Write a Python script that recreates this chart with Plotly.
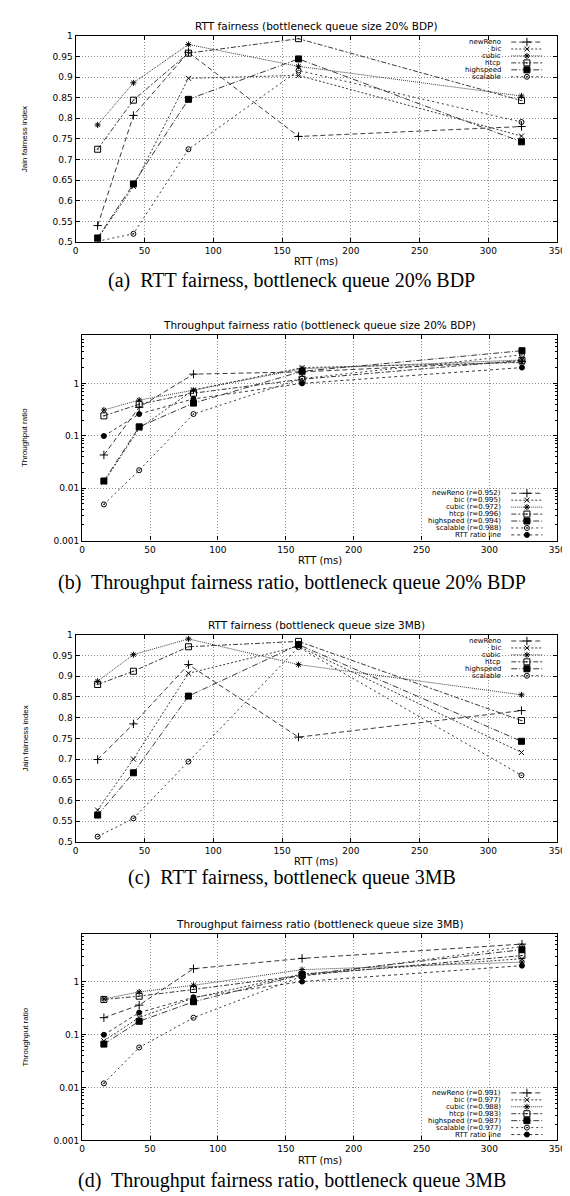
import math
import plotly.graph_objects as go

# ---------------- data ----------------
RTT = [16, 42, 82, 162, 324]
X_TICKS = [0, 50, 100, 150, 200, 250, 300, 350]

# (a) Jain fairness, queue 20% BDP
a_newreno = [0.540, 0.807, 0.960, 0.756, 0.780]
a_bic = [0.508, 0.635, 0.897, 0.904, 0.757]
a_cubic = [0.784, 0.886, 0.979, 0.926, 0.854]
a_htcp = [0.725, 0.844, 0.958, 0.993, 0.843]
a_highspeed = [0.510, 0.641, 0.846, 0.944, 0.743]
a_scalable = [0.502, 0.520, 0.725, 0.916, 0.791]

# (b) Throughput ratio, queue 20% BDP
b_newreno = [0.043, 0.35, 1.5, 1.66, 2.6]
b_bic = [0.013, 0.138, 0.75, 2.0, 2.5]
b_cubic = [0.31, 0.48, 0.74, 1.9, 2.8]
b_htcp = [0.24, 0.40, 0.65, 1.2, 2.75]
b_highspeed = [0.0137, 0.148, 0.42, 1.7, 4.2]
b_scalable = [0.0049, 0.022, 0.26, 1.24, 3.5]
b_rtt_ratio = [0.099, 0.26, 0.506, 1.0, 2.0]

# (c) Jain fairness, queue 3MB
c_newreno = [0.699, 0.785, 0.928, 0.753, 0.817]
c_bic = [0.577, 0.700, 0.907, 0.972, 0.716]
c_cubic = [0.888, 0.952, 0.990, 0.928, 0.855]
c_htcp = [0.880, 0.912, 0.971, 0.984, 0.793]
c_highspeed = [0.565, 0.667, 0.852, 0.976, 0.743]
c_scalable = [0.513, 0.557, 0.694, 0.970, 0.661]

# (d) Throughput ratio, queue 3MB
d_newreno = [0.208, 0.36, 1.75, 2.74, 5.1]
d_bic = [0.076, 0.21, 0.49, 1.39, 2.7]
d_cubic = [0.47, 0.64, 0.85, 1.68, 2.33]
d_htcp = [0.46, 0.53, 0.71, 1.31, 3.1]
d_highspeed = [0.066, 0.178, 0.416, 1.35, 4.0]
d_scalable = [0.012, 0.057, 0.208, 1.26, 4.6]
d_rtt_ratio = [0.099, 0.26, 0.506, 1.0, 2.0]

LEG_A = ["newReno", "bic", "cubic", "htcp", "highspeed", "scalable"]
LEG_B = ["newReno (r=0.952)", "bic (r=0.995)", "cubic (r=0.972)", "htcp (r=0.996)",
         "highspeed (r=0.994)", "scalable (r=0.988)", "RTT ratio line"]
LEG_D = ["newReno (r=0.991)", "bic (r=0.977)", "cubic (r=0.988)", "htcp (r=0.983)",
         "highspeed (r=0.987)", "scalable (r=0.977)", "RTT ratio line"]

TITLES = ["RTT fairness (bottleneck queue size 20% BDP)",
          "Throughput fairness ratio (bottleneck queue size 20% BDP)",
          "RTT fairness (bottleneck queue size 3MB)",
          "Throughput fairness ratio (bottleneck queue size 3MB)"]
CAPTIONS = ["(a)  RTT fairness, bottleneck queue 20% BDP",
            "(b)  Throughput fairness ratio, bottleneck queue 20% BDP",
            "(c)  RTT fairness, bottleneck queue 3MB",
            "(d)  Throughput fairness ratio, bottleneck queue 3MB"]
LIN_TICKS = [0.5, 0.55, 0.6, 0.65, 0.7, 0.75, 0.8, 0.85, 0.9, 0.95, 1]
LOG_TICKS = [0.001, 0.01, 0.1, 1]
LOG_TICK_TEXT = ["0.001", "0.01", "0.1", "1"]

# ---------------- styles ----------------
W, H = 570, 1196
SANS = "DejaVu Sans"
LINE_COL = "#3a3a3a"
STYLE = [
    dict(dash="5px,3px", symbol="cross-thin-open", size=6),
    dict(dash="2px,2px", symbol="x-thin-open", size=5),
    dict(dash="1px,1px", symbol="asterisk-open", size=5),
    dict(dash="5px,2px,2px,2px", symbol="square-open-dot", size=6),
    dict(dash="6px,2px,1px,2px", symbol="square", size=6),
    dict(dash="2px,3px", symbol="circle-open-dot", size=5),
    dict(dash="3px,3px", symbol="circle", size=5),
]

# panel geometry in pixels: (left, right, top, bottom)
PANELS = [(66, 558, 23, 231), (72.7, 558, 325, 532), (66, 558, 627, 836), (72.7, 558, 929, 1137)]
LEG_TOP = [29.3, 484.3, 633.3, 1089.0]
LEG_STEP = 7.0
CAPTION_Y = [270, 574, 872, 1177]
YTITLE = ["Jain fairness index", "Throughput ratio", "Jain fairness index", "Throughput ratio"]
LOG_TOP = [None, 0.918, None, 0.894]

panel_data = [
    [a_newreno, a_bic, a_cubic, a_htcp, a_highspeed, a_scalable],
    [b_newreno, b_bic, b_cubic, b_htcp, b_highspeed, b_scalable, b_rtt_ratio],
    [c_newreno, c_bic, c_cubic, c_htcp, c_highspeed, c_scalable],
    [d_newreno, d_bic, d_cubic, d_htcp, d_highspeed, d_scalable, d_rtt_ratio],
]
panel_legends = [LEG_A, LEG_B, LEG_A, LEG_D]

fig = go.Figure()
annotations = []
layout_axes = {}


def px_x(v):
    return v / W


def px_y(v):
    return 1 - v / H


for p in range(4):
    sfx = "" if p == 0 else str(p + 1)
    xa, ya = "x" + sfx, "y" + sfx
    for i, ys in enumerate(panel_data[p]):
        st = STYLE[i]
        fig.add_trace(go.Scatter(
            x=RTT, y=ys, xaxis=xa, yaxis=ya, mode="lines+markers", showlegend=False,
            line=dict(color=LINE_COL, width=1, dash=st["dash"]),
            marker=dict(symbol=st["symbol"], size=st["size"], color="black",
                        line=dict(color="black", width=1)),
        ))
    l, r, t, b = PANELS[p]
    xdom = [px_x(l), px_x(r)]
    ydom = [px_y(b), px_y(t)]
    common = dict(showline=True, linecolor="black", linewidth=1.3, mirror="ticks",
                  ticks="inside", ticklen=4, tickcolor="black", zeroline=False,
                  showgrid=True, gridcolor="#8c8c8c", griddash="1px,2px", gridwidth=1,
                  tickfont=dict(family=SANS, size=9, color="black"))
    layout_axes["xaxis" + sfx] = dict(domain=xdom, anchor=ya, range=[0, 350],
                                       tickvals=X_TICKS, **common)
    if LOG_TOP[p] is None:
        layout_axes["yaxis" + sfx] = dict(domain=ydom, anchor=xa, range=[0.5, 1],
                                           tickvals=LIN_TICKS, **common)
    else:
        minor_vals = [m * 10 ** e for e in range(-3, 1) for m in range(2, 10)]
        layout_axes["yaxis" + sfx] = dict(domain=ydom, anchor=xa, type="log",
                                           range=[-3, LOG_TOP[p]], tickvals=LOG_TICKS,
                                           ticktext=LOG_TICK_TEXT,
                                           minor=dict(ticks="inside", ticklen=2, tickcolor="black",
                                                      tickvals=minor_vals, showgrid=False),
                                           **common)
    # title, axis titles, caption
    annotations.append(dict(text=TITLES[p], x=px_x((l + r) / 2), y=px_y(t - 10), xref="paper",
                            yref="paper", showarrow=False, xanchor="center", yanchor="middle",
                            font=dict(family=SANS, size=10.5, color="black")))
    annotations.append(dict(text="RTT (ms)", x=px_x((l + r) / 2), y=px_y(b + 20), xref="paper",
                            yref="paper", showarrow=False, xanchor="center", yanchor="middle",
                            font=dict(family=SANS, size=10, color="black")))
    annotations.append(dict(text=YTITLE[p], x=px_x(14.5), y=px_y((t + b) / 2), xref="paper",
                            yref="paper", showarrow=False, xanchor="center", yanchor="middle",
                            textangle=-90, font=dict(family="Liberation Sans", size=8, color="black")))
    annotations.append(dict(text=CAPTIONS[p], x=px_x(287), y=px_y(CAPTION_Y[p]), xref="paper",
                            yref="paper", showarrow=False, xanchor="center", yanchor="middle",
                            font=dict(family="Liberation Serif", size=20, color="black")))
    # custom legend (gnuplot style: text, then sample)
    for i, name in enumerate(panel_legends[p]):
        yrow = LEG_TOP[p] + i * LEG_STEP
        st = STYLE[i]
        annotations.append(dict(text=name, x=px_x(503), y=px_y(yrow), xref="paper", yref="paper",
                                showarrow=False, xanchor="right", yanchor="middle",
                                font=dict(family=SANS, size=7, color="black")))
        fig.add_trace(go.Scatter(
            x=[511, 543], y=[yrow, yrow], xaxis="x5", yaxis="y5", mode="lines", showlegend=False,
            line=dict(color=LINE_COL, width=1, dash=st["dash"]), hoverinfo="skip"))
        fig.add_trace(go.Scatter(
            x=[527], y=[yrow], xaxis="x5", yaxis="y5", mode="markers", showlegend=False,
            marker=dict(symbol=st["symbol"], size=st["size"], color="black",
                        line=dict(color="black", width=1)), hoverinfo="skip"))

fig.update_layout(
    width=W, height=H, margin=dict(l=0, r=0, t=0, b=0),
    paper_bgcolor="white", plot_bgcolor="rgba(0,0,0,0)", showlegend=False,
    xaxis5=dict(domain=[0, 1], range=[0, W], visible=False, anchor="y5", fixedrange=True),
    yaxis5=dict(domain=[0, 1], range=[H, 0], visible=False, anchor="x5", fixedrange=True),
    annotations=annotations,
    **layout_axes,
)

fig.write_html("out.html")
